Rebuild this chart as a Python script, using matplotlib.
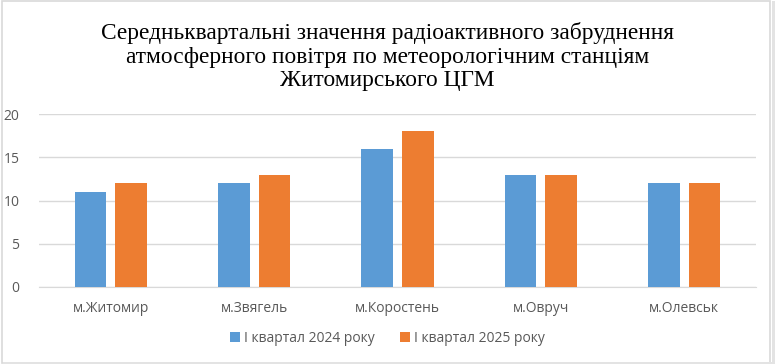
import matplotlib.pyplot as plt
import numpy as np
from matplotlib.patches import Rectangle

# Data
stations = ["м.Житомир", "м.Звягель", "м.Коростень", "м.Овруч", "м.Олевськ"]
q1_2024 = [11, 12, 16, 13, 12]
q1_2025 = [12, 13, 18, 13, 12]
series_names = ["І квартал 2024 року", "І квартал 2025 року"]
y_ticks = [0, 5, 10, 15, 20]

blue = "#5B9BD5"
orange = "#ED7D31"
text_gray = "#595959"

fig = plt.figure(figsize=(7.75, 3.64), dpi=100)
ax = fig.add_axes([39 / 775, 1 - 287 / 364, (756 - 39) / 775, (287 - 114) / 364])

x = np.arange(len(stations))
w = 0.22
off = 0.142
ax.bar(x - off, q1_2024, w, color=blue, label=series_names[0], zorder=3)
ax.bar(x + off, q1_2025, w, color=orange, label=series_names[1], zorder=3)

ax.set_xlim(-0.5, len(stations) - 0.5)
ax.set_ylim(0, 20)
ax.set_yticks(y_ticks)
ax.set_xticks(x)
ax.set_xticklabels(stations)
ax.yaxis.grid(True, color="#D9D9D9", linewidth=1, zorder=0)
for s in ["top", "right", "left"]:
    ax.spines[s].set_visible(False)
ax.spines["bottom"].set_color("#D9D9D9")
ax.tick_params(axis="both", length=0, colors=text_gray, labelsize=10)
ax.tick_params(axis="x", pad=10)
ax.tick_params(axis="y", pad=14)
for lbl in ax.get_xticklabels() + ax.get_yticklabels():
    lbl.set_fontfamily("Open Sans")

fig.text(0.5, 1 - 56.5 / 364,
         "Середньквартальні значення радіоактивного забруднення\n"
         "атмосферного повітря по метеорологічним станціям\n"
         "Житомирського ЦГМ",
         ha="center", va="center", fontsize=16.8, family="Liberation Serif",
         color="black", linespacing=1.18)

leg = fig.legend(loc="center", bbox_to_anchor=(0.5, 1 - 338 / 364), ncol=2,
                 frameon=False, handlelength=0.7, handleheight=0.7,
                 handletextpad=0.3, columnspacing=1.8,
                 prop={"family": "Open Sans", "size": 10})
for t in leg.get_texts():
    t.set_color(text_gray)

# chart border with light shadow
fig.patches.append(Rectangle((0.002, 0.004), 0.992, 0.992, transform=fig.transFigure,
                             fill=False, edgecolor="#D9D9D9", linewidth=1.2))
fig.patches.append(Rectangle((0.996, 0.0), 0.004, 0.996, transform=fig.transFigure,
                             color="#E3E3E3", linewidth=0))
fig.patches.append(Rectangle((0.004, 0.0), 0.996, 0.006, transform=fig.transFigure,
                             color="#E3E3E3", linewidth=0))

fig.savefig("out.png", dpi=100)
